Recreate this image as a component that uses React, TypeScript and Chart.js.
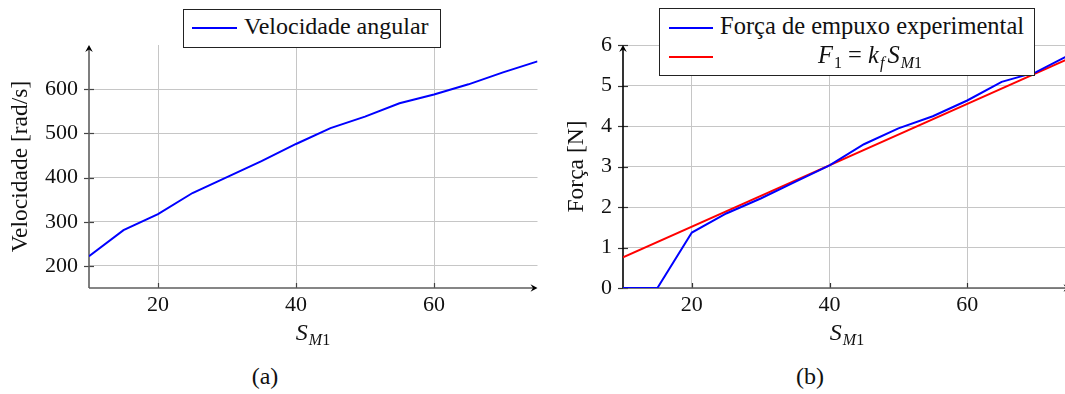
import React, { useEffect, useRef } from "react";
import { Chart, registerables } from "chart.js";

Chart.register(...registerables);

// ---------- data ----------
const sM1 = [10, 15, 20, 25, 30, 35, 40, 45, 50, 55, 60, 65, 70, 75];
const velocidadeAngular = [222, 281, 317, 365, 401, 437, 476, 512, 538, 568, 588, 611, 638, 663];
const forcaExperimental = [0, 0, 1.37, 1.84, 2.21, 2.62, 3.03, 3.55, 3.94, 4.24, 4.63, 5.09, 5.33, 5.77];
const ajusteS = [10, 75];
const ajusteF = [0.76, 5.68];
const xTickValues = [20, 40, 60];
const velTickValues = [200, 300, 400, 500, 600];
const forcaTickValues = [0, 1, 2, 3, 4, 5, 6];

const FONT = "'Liberation Serif'";
const BLUE = "#0000ff";
const RED = "#ff0000";
const GRID = "#c6c6c6";

const axesPlugin = {
  id: "pgfAxes",
  beforeDatasetsDraw(chart: any, _args: any, opts: any) {
    const { ctx } = chart;
    const { left, right, top, bottom } = chart.chartArea;
    const xs = chart.scales.x;
    const ys = chart.scales.y;
    ctx.save();
    ctx.lineWidth = 1.2;
    ctx.strokeStyle = opts.tickColor;
    xs.ticks.forEach((t: any) => {
      const px = Math.round(xs.getPixelForValue(t.value)) + 0.5;
      ctx.beginPath();
      ctx.moveTo(px, bottom - 5);
      ctx.lineTo(px, bottom);
      ctx.stroke();
    });
    ys.ticks.forEach((t: any) => {
      const py = Math.round(ys.getPixelForValue(t.value)) + 0.5;
      ctx.beginPath();
      ctx.moveTo(left - 5, py);
      ctx.lineTo(left + 5, py);
      ctx.stroke();
    });
    ctx.lineWidth = 1.6;
    ctx.strokeStyle = opts.xColor;
    ctx.beginPath();
    ctx.moveTo(left, bottom);
    ctx.lineTo(right - 2, bottom);
    ctx.stroke();
    ctx.strokeStyle = opts.yColor;
    ctx.beginPath();
    ctx.moveTo(left, bottom);
    ctx.lineTo(left, top + 2);
    ctx.stroke();
    ctx.fillStyle = "#000";
    ctx.beginPath();
    ctx.moveTo(right, bottom);
    ctx.lineTo(right - 7, bottom - 3.8);
    ctx.lineTo(right - 4.5, bottom);
    ctx.lineTo(right - 7, bottom + 3.8);
    ctx.closePath();
    ctx.fill();
    ctx.beginPath();
    ctx.moveTo(left, top);
    ctx.lineTo(left - 3.8, top + 7);
    ctx.lineTo(left, top + 4.5);
    ctx.lineTo(left + 3.8, top + 7);
    ctx.closePath();
    ctx.fill();
    ctx.restore();
  },
};

function makeScales(opts: {
  yTicks: number[];
  yMin: number;
  yMax: number;
  yWidth: number;
  yTitle: string;
  yTitlePad: number;
}) {
  const tickFont = { family: FONT, size: 22, lineHeight: 1 };
  return {
    x: {
      type: "linear" as const,
      min: 10,
      max: 75,
      afterBuildTicks: (s: any) => {
        s.ticks = xTickValues.map((v) => ({ value: v }));
      },
      afterFit: (s: any) => {
        s.height = 32;
      },
      grid: { color: GRID, lineWidth: 1, drawTicks: false },
      border: { display: false },
      ticks: { font: tickFont, color: "#111", padding: 6, maxRotation: 0 },
    },
    y: {
      type: "linear" as const,
      min: opts.yMin,
      max: opts.yMax,
      afterBuildTicks: (s: any) => {
        s.ticks = opts.yTicks.map((v) => ({ value: v }));
      },
      afterFit: (s: any) => {
        s.width = opts.yWidth;
      },
      grid: { color: GRID, lineWidth: 1, drawTicks: false },
      border: { display: false },
      ticks: { font: tickFont, color: "#111", padding: 11 },
      title: {
        display: true,
        text: opts.yTitle,
        font: { family: FONT, size: 23.5, lineHeight: 1 },
        color: "#111",
        padding: { top: opts.yTitlePad, bottom: 0 },
      },
    },
  };
}

function ChartA() {
  const ref = useRef<HTMLCanvasElement | null>(null);
  useEffect(() => {
    if (!ref.current) return;
    const chart = new Chart(ref.current, {
      type: "line",
      data: {
        datasets: [
          {
            label: "Velocidade angular",
            data: sM1.map((x, i) => ({ x, y: velocidadeAngular[i] })),
            borderColor: BLUE,
            borderWidth: 2,
            pointRadius: 0,
            tension: 0,
            fill: false,
          },
        ],
      },
      options: {
        animation: false,
        responsive: false,
        maintainAspectRatio: false,
        layout: { padding: { top: 45, right: 7.5, left: 0, bottom: 0 } },
        plugins: {
          legend: { display: false },
          tooltip: { enabled: false },
          pgfAxes: { xColor: "#5e5e5e", yColor: "#5e5e5e", tickColor: "#444" },
        } as any,
        scales: makeScales({
          yTicks: velTickValues,
          yMin: 150,
          yMax: 700,
          yWidth: 89,
          yTitle: "Velocidade [rad/s]",
          yTitlePad: 9.5,
        }) as any,
      },
      plugins: [axesPlugin],
    });
    return () => chart.destroy();
  }, []);
  return (
    <canvas
      ref={ref}
      width={545}
      height={320}
      style={{ position: "absolute", left: 0, top: 0, width: 545, height: 320 }}
    />
  );
}

function ChartB() {
  const ref = useRef<HTMLCanvasElement | null>(null);
  useEffect(() => {
    if (!ref.current) return;
    const chart = new Chart(ref.current, {
      type: "line",
      data: {
        datasets: [
          {
            label: "Força de empuxo experimental",
            data: sM1.map((x, i) => ({ x, y: forcaExperimental[i] })),
            borderColor: BLUE,
            borderWidth: 2,
            pointRadius: 0,
            tension: 0,
            fill: false,
          },
          {
            label: "F1 = kf SM1",
            data: ajusteS.map((x, i) => ({ x, y: ajusteF[i] })),
            borderColor: RED,
            borderWidth: 2,
            pointRadius: 0,
            tension: 0,
            fill: false,
          },
        ],
      },
      options: {
        animation: false,
        responsive: false,
        maintainAspectRatio: false,
        layout: { padding: { top: 45, right: 14.5, left: 0, bottom: 0 } },
        plugins: {
          legend: { display: false },
          tooltip: { enabled: false },
          pgfAxes: { xColor: "#5e5e5e", yColor: "#000", tickColor: "#333" },
        } as any,
        scales: makeScales({
          yTicks: forcaTickValues,
          yMin: 0,
          yMax: 6,
          yWidth: 78,
          yTitle: "Força [N]",
          yTitlePad: 20,
        }) as any,
      },
      plugins: [axesPlugin],
    });
    return () => chart.destroy();
  }, []);
  return (
    <canvas
      ref={ref}
      width={540}
      height={320}
      style={{ position: "absolute", left: 545, top: 0, width: 540, height: 320 }}
    />
  );
}

function Txt(props: {
  x: number;
  baseline: number;
  align?: "left" | "center";
  children: React.ReactNode;
  size?: number;
}) {
  const size = props.size ?? 23;
  const top = props.baseline - size * 0.835;
  const style: React.CSSProperties = {
    position: "absolute",
    top,
    fontFamily: FONT,
    fontSize: size,
    lineHeight: `${size}px`,
    whiteSpace: "nowrap",
    color: "#111",
  };
  if (props.align === "center") {
    style.left = props.x - 300;
    style.width = 600;
    style.textAlign = "center";
  } else {
    style.left = props.x;
  }
  return <div style={style}>{props.children}</div>;
}

const subStyle: React.CSSProperties = {
  fontSize: 16,
  position: "relative",
  top: 5,
  lineHeight: 0,
  marginLeft: 1,
};

function SM1() {
  return (
    <span>
      <i>S</i>
      <span style={subStyle}>
        <i>M</i>1
      </span>
    </span>
  );
}

function Sample(props: { x1: number; x2: number; y: number; color: string }) {
  return (
    <div
      style={{
        position: "absolute",
        left: props.x1,
        top: props.y - 1,
        width: props.x2 - props.x1,
        height: 2,
        background: props.color,
      }}
    />
  );
}

export default function App() {
  return (
    <div
      style={{
        position: "absolute",
        left: 0,
        top: 0,
        width: 1065,
        height: 394,
        overflow: "hidden",
        background: "#fff",
      }}
    >
      <ChartA />
      <ChartB />

      {/* legend (a) */}
      <div
        style={{
          position: "absolute",
          left: 183,
          top: 9,
          width: 258,
          height: 39,
          boxSizing: "border-box",
          border: "1.3px solid #222",
          background: "#fff",
        }}
      />
      <Sample x1={192} x2={237} y={28} color={BLUE} />
      <Txt x={244} baseline={34} size={24}>
        Velocidade angular
      </Txt>

      {/* legend (b) */}
      <div
        style={{
          position: "absolute",
          left: 659,
          top: 8,
          width: 376,
          height: 68,
          boxSizing: "border-box",
          border: "1.3px solid #222",
          background: "#fff",
        }}
      />
      <Sample x1={669} x2={713} y={28} color={BLUE} />
      <Txt x={720} baseline={34} size={24.5}>
        Força de empuxo experimental
      </Txt>
      <Sample x1={669} x2={713} y={57} color={RED} />
      <Txt x={870} baseline={63} align="center" size={24.5}>
        <i>F</i>
        <span style={subStyle}>1</span> = <i>k</i>
        <span style={{ ...subStyle, marginRight: 3 }}>
          <i>f</i>
        </span>
        <SM1 />
      </Txt>

      {/* x axis titles */}
      <Txt x={313} baseline={340} align="center" size={24}>
        <SM1 />
      </Txt>
      <Txt x={847} baseline={340} align="center" size={24}>
        <SM1 />
      </Txt>

      {/* captions */}
      <Txt x={265} baseline={384} align="center" size={24}>
        (a)
      </Txt>
      <Txt x={810} baseline={384} align="center" size={24}>
        (b)
      </Txt>
    </div>
  );
}
